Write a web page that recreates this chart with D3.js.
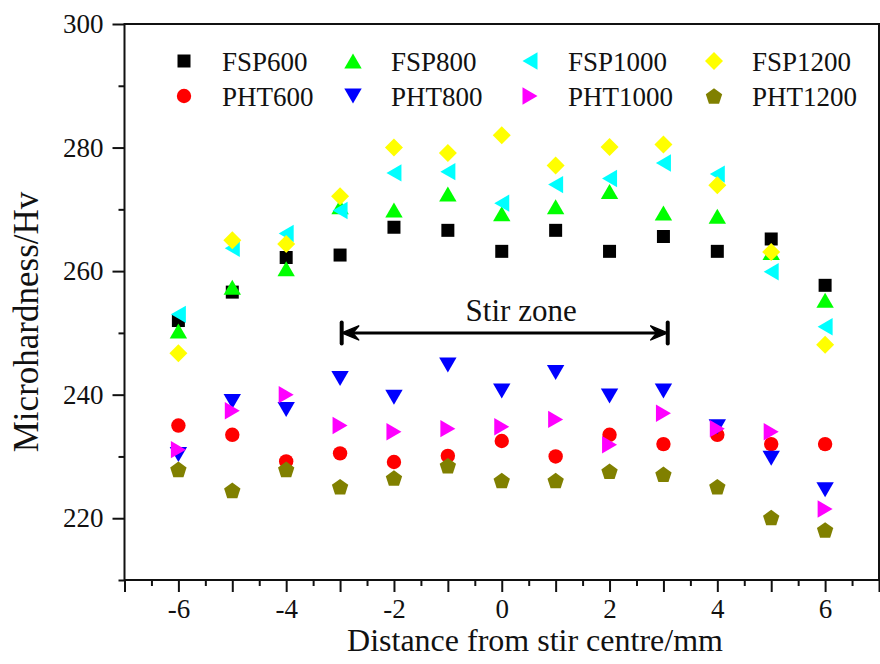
<!DOCTYPE html>
<html>
<head>
<meta charset="utf-8">
<script src="https://cdn.jsdelivr.net/npm/d3@7"></script>
<style>
  body { margin: 0; background: #fff; }
  svg { display: block; }
  text { font-family: "Liberation Serif", "Times New Roman", serif; fill: #111; }
</style>
</head>
<body>
<svg id="chart" width="880" height="664"></svg>
<script>
// Measurement positions across the weld (mm from the stir centre)
const positions = [-6, -5, -4, -3, -2, -1, 0, 1, 2, 3, 4, 5, 6];

// Microhardness (Hv) per processing condition
const fsp600  = [252.0, 256.6, 262.2, 262.6, 267.1, 266.6, 263.2, 266.6, 263.2, 265.6, 263.2, 265.2, 257.7];
const fsp800  = [250.3, 257.4, 260.4, 270.4, 269.9, 272.5, 269.3, 270.4, 272.9, 269.4, 268.9, 263.0, 255.3];
const fsp1000 = [253.0, 263.7, 266.1, 269.8, 275.9, 276.1, 271.0, 274.0, 275.0, 277.5, 275.7, 259.9, 251.0];
const fsp1200 = [246.7, 265.0, 264.4, 272.1, 280.0, 279.1, 282.0, 277.1, 280.1, 280.5, 273.9, 263.1, 248.1];
const pht600  = [235.0, 233.5, 229.2, 230.5, 229.1, 230.1, 232.5, 230.0, 233.5, 232.0, 233.5, 232.0, 232.0];
const pht800  = [230.3, 238.9, 237.6, 242.6, 239.6, 244.8, 240.6, 243.6, 239.8, 240.6, 234.8, 229.7, 224.6];
const pht1000 = [231.1, 237.4, 240.0, 235.0, 234.0, 234.5, 234.8, 236.0, 231.9, 237.0, 234.5, 234.0, 221.5];
const pht1200 = [227.9, 224.5, 227.9, 225.1, 226.5, 228.5, 226.1, 226.1, 227.6, 227.1, 225.1, 220.1, 218.1];

const seriesNames  = ["FSP600", "FSP800", "FSP1000", "FSP1200", "PHT600", "PHT800", "PHT1000", "PHT1200"];
const seriesValues = [fsp600, fsp800, fsp1000, fsp1200, pht600, pht800, pht1000, pht1200];

const xTickLabels = [-6, -4, -2, 0, 2, 4, 6];
const yTickLabels = [220, 240, 260, 280, 300];

// Extent of the stir zone (mm) and the hardness level the bracket sits at
const stirZone = [-2.97, 3.08];
const stirZoneLevel = 250;
const stirZoneLabel = "Stir zone";

const xTitle = "Distance from stir centre/mm";
const yTitle = "Microhardness/Hv";

// ---- styling -------------------------------------------------------------
const seriesColors = ["#000000", "#00ff00", "#00ffff", "#ffff00", "#ff0000", "#0000ff", "#ff00ff", "#808000"];
const seriesShapes = ["square", "triUp", "triLeft", "diamond", "circle", "triDown", "triRight", "pentagon"];

const frame = { left: 124.5, right: 879, top: 24, bottom: 580 };

const svg = d3.select("#chart");

const x = d3.scaleLinear().domain([-7, 7]).range([frame.left, frame.right]);
const y = d3.scaleLinear().domain([210, 300]).range([frame.bottom, frame.top]);

function polygon(points) {
  const p = d3.path();
  points.forEach((pt, i) => (i ? p.lineTo(pt[0], pt[1]) : p.moveTo(pt[0], pt[1])));
  p.closePath();
  return p.toString();
}
function shapePath(kind) {
  switch (kind) {
    case "square":   return polygon([[-6.5, -6.5], [6.5, -6.5], [6.5, 6.5], [-6.5, 6.5]]);
    case "circle": { const p = d3.path(); p.arc(0, 0, 7.2, 0, 2 * Math.PI); return p.toString(); }
    case "triUp":    return polygon([[0, -7.5], [8.7, 7.5], [-8.7, 7.5]]);
    case "triDown":  return polygon([[0, 7.5], [8.7, -7.5], [-8.7, -7.5]]);
    case "triLeft":  return polygon([[-7.5, 0], [7.5, -8.7], [7.5, 8.7]]);
    case "triRight": return polygon([[7.5, 0], [-7.5, -8.7], [-7.5, 8.7]]);
    case "diamond":  return polygon([[0, -9], [9, 0], [0, 9], [-9, 0]]);
    case "pentagon": {
      const r = 8.6, pts = [];
      for (let i = 0; i < 5; i++) {
        const a = -Math.PI / 2 + i * 2 * Math.PI / 5;
        pts.push([r * Math.cos(a), r * Math.sin(a) + 0.8]);
      }
      return polygon(pts);
    }
  }
}

// ---- axes ----------------------------------------------------------------
const tickFont = "27px";

const xMajor = d3.axisBottom(x)
  .tickValues(d3.range(-7, 7.01, 1))
  .tickSize(12).tickPadding(7)
  .tickFormat(d => (xTickLabels.includes(d) ? String(d) : ""));
const xMinor = d3.axisBottom(x)
  .tickValues(d3.range(-6.5, 7, 1))
  .tickSize(6).tickFormat("");
const yMajor = d3.axisLeft(y)
  .tickValues(yTickLabels)
  .tickSize(12).tickPadding(9)
  .tickFormat(d => String(d));
const yMinor = d3.axisLeft(y)
  .tickValues([210, 230, 250, 270, 290])
  .tickSize(6).tickFormat("");

function styleAxis(g) {
  g.select(".domain").remove();
  g.selectAll(".tick line").attr("stroke", "#111").attr("stroke-width", 2);
  g.selectAll(".tick text").attr("font-size", tickFont).attr("fill", "#111")
    .style("font-family", '"Liberation Serif", "Times New Roman", serif');
}

svg.append("g").attr("transform", `translate(0,${frame.bottom})`).call(xMinor).call(styleAxis);
svg.append("g").attr("transform", `translate(0,${frame.bottom})`).call(xMajor).call(styleAxis);
svg.append("g").attr("transform", `translate(${frame.left},0)`).call(yMinor).call(styleAxis);
svg.append("g").attr("transform", `translate(${frame.left},0)`).call(yMajor).call(styleAxis);

// plot frame
svg.append("rect")
  .attr("x", frame.left).attr("y", frame.top)
  .attr("width", frame.right - frame.left).attr("height", frame.bottom - frame.top)
  .attr("fill", "none").attr("stroke", "#111").attr("stroke-width", 2);

// axis titles
svg.append("text")
  .attr("x", 535).attr("y", 651)
  .attr("text-anchor", "middle").attr("font-size", "32px")
  .text(xTitle);
svg.append("text")
  .attr("transform", `translate(38,${322}) rotate(-90)`)
  .attr("text-anchor", "middle").attr("font-size", "35px")
  .text(yTitle);

// ---- stir zone bracket ---------------------------------------------------
const zy = y(stirZoneLevel);
const zx0 = x(stirZone[0]), zx1 = x(stirZone[1]);
const zone = svg.append("g");
zone.append("line")
  .attr("x1", zx0 + 4).attr("x2", zx1 - 4).attr("y1", zy).attr("y2", zy)
  .attr("stroke", "#000").attr("stroke-width", 3);
[zx0, zx1].forEach((bx, i) => {
  zone.append("line")
    .attr("x1", bx).attr("x2", bx).attr("y1", zy - 10.5).attr("y2", zy + 10.5)
    .attr("stroke", "#000").attr("stroke-width", 4).attr("stroke-linecap", "round");
  const s = i === 0 ? 1 : -1;
  zone.append("path")
    .attr("d", polygon([[bx, zy], [bx + s * 17, zy - 7], [bx + s * 11, zy], [bx + s * 17, zy + 7]]))
    .attr("fill", "#000").attr("stroke", "#000").attr("stroke-width", 1.5).attr("stroke-linejoin", "round");
});
zone.append("text")
  .attr("x", x(0.36)).attr("y", zy - 12)
  .attr("text-anchor", "middle").attr("font-size", "31px")
  .text(stirZoneLabel);

// ---- data markers --------------------------------------------------------
seriesValues.forEach((vals, si) => {
  const d = shapePath(seriesShapes[si]);
  svg.append("g").attr("class", "series")
    .selectAll("path")
    .data(positions.map((p, i) => ({ p, v: vals[i] })))
    .join("path")
    .attr("d", d)
    .attr("transform", o => `translate(${x(o.p)},${y(o.v)})`)
    .attr("fill", seriesColors[si]);
});

// ---- legend: 4 columns, FSP on the upper row, PHT on the lower ----------
const legendColX = [184, 353, 530, 714];
const legendRowY = [61, 96];
const legend = svg.append("g");
seriesNames.forEach((name, si) => {
  const col = si % 4, row = Math.floor(si / 4);
  const lx = legendColX[col], ly = legendRowY[row];
  legend.append("path")
    .attr("d", shapePath(seriesShapes[si]))
    .attr("transform", `translate(${lx},${ly})`)
    .attr("fill", seriesColors[si]);
  legend.append("text")
    .attr("x", lx + 38).attr("y", ly + 9.5)
    .attr("font-size", "27px")
    .text(name);
});
</script>
</body>
</html>
